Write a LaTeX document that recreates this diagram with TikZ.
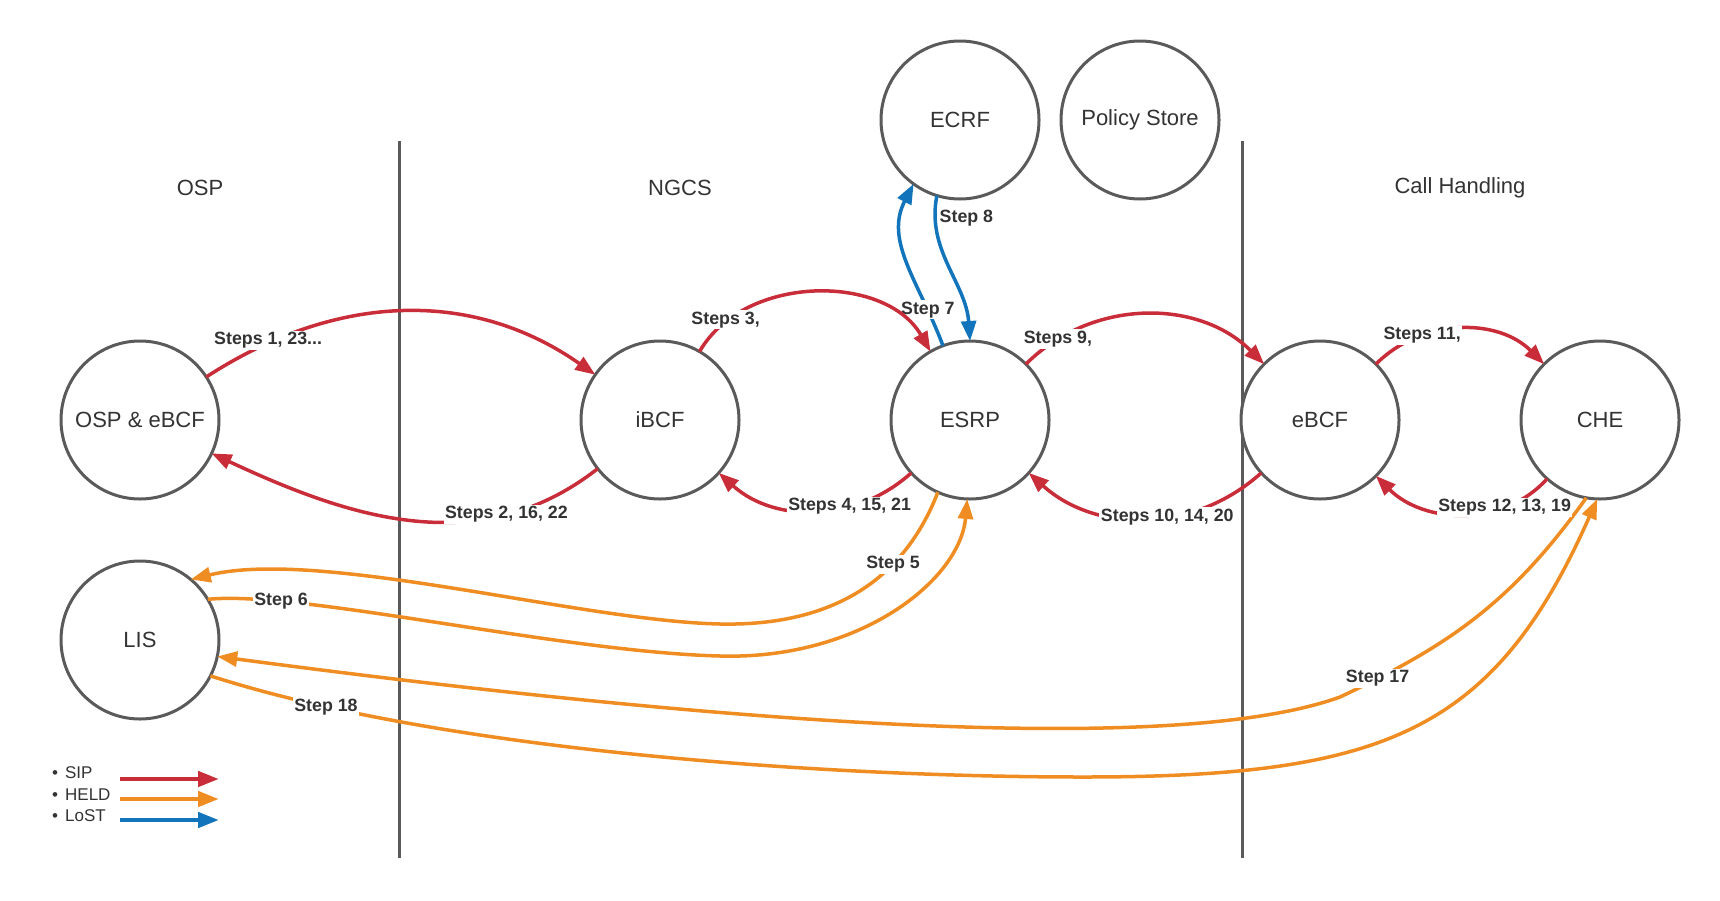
\documentclass[tikz,border=0pt]{standalone}
\usepackage{fontspec}
\setmainfont{Liberation Sans}
\usetikzlibrary{arrows.meta}

\definecolor{sipred}{HTML}{C92D39}
\definecolor{heldorange}{HTML}{EF8D22}
\definecolor{lostblue}{HTML}{1274BA}
\definecolor{rim}{HTML}{5A5A5A}
\definecolor{ink}{HTML}{333333}

\begin{document}
\begin{tikzpicture}[x=1pt,y=1pt,
  entity/.style={circle, draw=rim, fill=white, line width=3pt, minimum size=158pt,
    inner sep=0pt, outer sep=0pt, text=ink, font=\fontsize{22}{26}\selectfont},
  zone/.style={text=ink, font=\fontsize{22}{26}\selectfont},
  divider/.style={draw=rim, line width=3pt},
  flow/.style={line width=3.5pt, -{Triangle[length=20pt,width=15pt]}},
  sip/.style={flow, color=sipred},
  held/.style={flow, color=heldorange},
  lost/.style={flow, color=lostblue},
  keyflow/.style={line width=4.5pt, -{Triangle[length=21pt,width=15pt]}},
  steplabel/.style={fill=white, inner sep=1.5pt, text=ink,
    font=\bfseries\fontsize{17.8}{21}\selectfont},
  keytext/.style={anchor=west, inner sep=0pt, text=ink, font=\fontsize{17}{20}\selectfont},
]
\useasboundingbox (0,0) rectangle (1720,-900);

% zone dividers and headings
\draw[divider] (399,-141) -- (399,-858);
\draw[divider] (1242,-141) -- (1242,-858);
\node[zone] (zosp) at (200,-188) {OSP};
\node[zone] (zngcs) at (680,-188) {NGCS};
\node[zone] (zch) at (1460,-188) {Call Handling};

% functional elements
\node[entity] (osp)    at (140,-420)  {OSP \& eBCF};
\node[entity] (ibcf)   at (660,-420)  {iBCF};
\node[entity] (esrp)   at (970,-420)  {ESRP};
\node[entity] (ebcf)   at (1320,-420) {eBCF};
\node[entity] (che)    at (1600,-420) {CHE};
\node[entity] (lis)    at (140,-640)  {LIS};
\node[entity] (ecrf)   at (960,-120)  {ECRF};
\node[entity] (policy) at (1140,-120) {Policy Store};

% HELD location requests
\draw[held] (esrp.246) .. controls (900,-590) and (820,-626) .. (720,-624)
  node[steplabel,pos=0.3] {Step 5}
  .. controls (580,-621) and (320,-548) .. (lis.50);
\draw[held] (lis.31) .. controls (300,-590) and (560,-652) .. (720,-656)
  node[steplabel,pos=0.2] {Step 6}
  .. controls (860,-660) and (960,-580) .. (esrp.268);
\draw[held] (che.260) .. controls (1512,-602) and (1450,-645) .. (1340,-697)
  node[steplabel,pos=0.88] {Step 17}
  .. controls (1152,-765) and (613,-709) .. (lis.-12);
\draw[held] (lis.-27) .. controls (447,-752) and (833,-777) .. (1083,-777)
  node[steplabel,pos=0.15] {Step 18}
  .. controls (1385,-777) and (1494,-732) .. (che.268);

% LoST routing query
\draw[lost] (esrp.110) .. controls (919,-282) and (884,-241) .. (ecrf.234)
  node[steplabel,pos=0.2] {Step 7};
\draw[lost] (ecrf.-107) .. controls (926,-250) and (966,-283) .. (esrp.90);
\node[steplabel, fill=none, anchor=west] (s8) at (938,-218) {Step 8};

% SIP signalling
\draw[sip] (osp) to[out=33,in=145] node[steplabel,pos=0.16,yshift=3pt] {Steps 1, 23...} (ibcf);
\draw[sip] (ibcf) to[out=218,in=-25] node[steplabel,pos=0.25] {Steps 2, 16, 22} (osp);
\draw[sip] (ibcf) to[out=60,in=120] node[steplabel,pos=0.15,yshift=2pt] {Steps 3,} (esrp);
\draw[sip] (esrp) to[out=222,in=-42] node[steplabel,pos=0.33] {Steps 4, 15, 21} (ibcf);
\draw[sip] (esrp) to[out=45,in=135] node[steplabel,pos=0.15] {Steps 9,} (ebcf);
\draw[sip] (ebcf) to[out=222,in=-42] node[steplabel,pos=0.41] {Steps 10, 14, 20} (esrp);
\draw[sip] (ebcf) to[out=45,in=135] node[steplabel,pos=0.29] {Steps 11,} (che);
\draw[sip] (che) to[out=228,in=-45] node[steplabel,pos=0.27] {Steps 12, 13, 19} (ebcf);

% key
\node[keytext] (ksip)  at (52,-773) {\textbullet\hspace{7pt}SIP};
\node[keytext] (kheld) at (52,-795) {\textbullet\hspace{7pt}HELD};
\node[keytext] (klost) at (52,-816) {\textbullet\hspace{7pt}LoST};
\coordinate (ksipA) at (120,-779);  \coordinate (ksipB) at (219,-779);
\coordinate (kheldA) at (120,-799); \coordinate (kheldB) at (219,-799);
\coordinate (klostA) at (120,-820); \coordinate (klostB) at (219,-820);
\draw[keyflow, color=sipred] (ksipA) -- (ksipB);
\draw[keyflow, color=heldorange] (kheldA) -- (kheldB);
\draw[keyflow, color=lostblue] (klostA) -- (klostB);
\end{tikzpicture}
\end{document}
